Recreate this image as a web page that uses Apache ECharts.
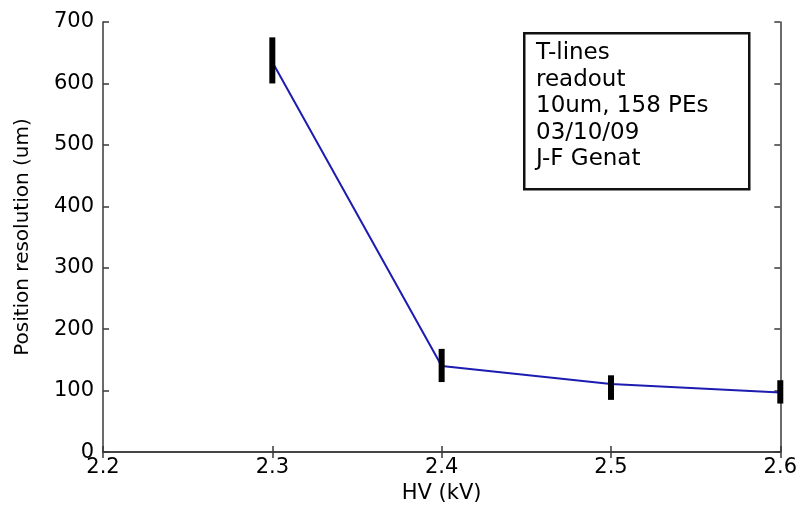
<!DOCTYPE html>
<html>
<head>
<meta charset="utf-8">
<script src="https://cdn.jsdelivr.net/npm/echarts@6/dist/echarts.min.js"></script>
<style>
html,body{margin:0;padding:0;background:#fff;}
#c{width:800px;height:509px;}
</style>
</head>
<body>
<div id="c"></div>
<script>
var hv = [2.3, 2.4, 2.5, 2.6];
var resolution = [635, 140, 111, 97];
var errLow = [600, 114, 85, 79];
var errHigh = [675, 168, 125, 117];
var xTicks = ['2.2', '2.3', '2.4', '2.5', '2.6'];
var yTicks = ['0', '100', '200', '300', '400', '500', '600', '700'];
var noteLines = ['T-lines', 'readout', '10um, 158 PEs', '03/10/09', 'J-F Genat'];

var FONT = 'DejaVu Sans';
var chart = echarts.init(document.getElementById('c'), null, {renderer: 'canvas'});

var lineData = hv.map(function (x, i) { return [x, resolution[i]]; });
var errData = hv.map(function (x, i) { return [x, errLow[i], errHigh[i]]; });

var axisLineStyle = {color: '#3a3a3a', width: 1.5};

var option = {
  backgroundColor: '#ffffff',
  animation: false,
  grid: {left: 103, right: 19, top: 22, bottom: 55, containLabel: false},
  xAxis: [{
    type: 'value', min: 2.2, max: 2.6, interval: 0.1, position: 'bottom',
    name: 'HV (kV)', nameLocation: 'middle', nameGap: 25,
    nameTextStyle: {fontFamily: FONT, fontSize: 21, color: '#000'},
    axisLine: {show: true, lineStyle: axisLineStyle},
    axisTick: {show: true, inside: true, length: 6, lineStyle: axisLineStyle},
    axisLabel: {
      fontFamily: FONT, fontSize: 21, color: '#000', margin: 5,
      formatter: function (v) { var s = v.toFixed(1); return xTicks.indexOf(s) >= 0 ? s : ''; }
    },
    splitLine: {show: false}
  }, {
    type: 'value', min: 2.2, max: 2.6, interval: 0.1, position: 'top',
    axisLine: {show: true, lineStyle: axisLineStyle},
    axisTick: {show: true, inside: true, length: 6, lineStyle: axisLineStyle},
    axisLabel: {show: false},
    splitLine: {show: false}
  }],
  yAxis: [{
    type: 'value', min: 0, max: 700, interval: 100, position: 'left',
    name: 'Position resolution (um)', nameLocation: 'middle', nameGap: 70, nameRotate: 90,
    nameTextStyle: {fontFamily: FONT, fontSize: 20, color: '#000'},
    axisLine: {show: true, lineStyle: axisLineStyle},
    axisTick: {show: true, inside: true, length: 6, lineStyle: axisLineStyle},
    axisLabel: {
      fontFamily: FONT, fontSize: 21, color: '#000', margin: 9,
      formatter: function (v) { var s = String(Math.round(v)); return yTicks.indexOf(s) >= 0 ? s : ''; }
    },
    splitLine: {show: false}
  }, {
    type: 'value', min: 0, max: 700, interval: 100, position: 'right',
    axisLine: {show: true, lineStyle: axisLineStyle},
    axisTick: {show: true, inside: true, length: 6, lineStyle: axisLineStyle},
    axisLabel: {show: false},
    splitLine: {show: false}
  }],
  series: [{
    type: 'line',
    data: lineData,
    symbol: 'none',
    lineStyle: {color: '#1c1cb0', width: 2},
    z: 3
  }, {
    type: 'custom',
    data: errData,
    z: 4,
    renderItem: function (params, api) {
      var x = api.value(0);
      var lo = api.coord([x, api.value(1)]);
      var hi = api.coord([x, api.value(2)]);
      return {
        type: 'rect',
        shape: {x: lo[0] - 3, y: hi[1], width: 6, height: lo[1] - hi[1]},
        style: {fill: '#000'}
      };
    }
  }],
  graphic: [{
    type: 'rect',
    left: 523, top: 32,
    shape: {width: 225, height: 156},
    style: {fill: '#fff', stroke: '#111', lineWidth: 2.5},
    z: 10
  }, {
    type: 'text',
    left: 536, top: 40,
    style: {
      text: noteLines.join('\n'),
      font: '23px "DejaVu Sans"',
      lineHeight: 26.5,
      fill: '#000'
    },
    z: 11
  }]
};
chart.setOption(option);
</script>
</body>
</html>
